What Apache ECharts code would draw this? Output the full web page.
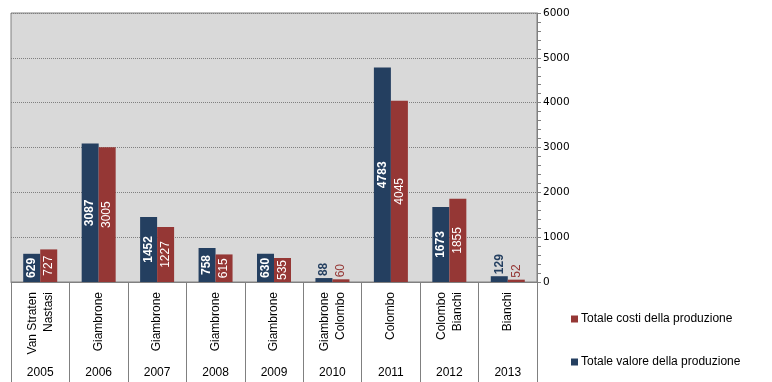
<!DOCTYPE html>
<html>
<head>
<meta charset="utf-8">
<script src="https://cdn.jsdelivr.net/npm/echarts@6/dist/echarts.min.js"></script>
<style>
html,body{margin:0;padding:0;background:#fff;}
#chart{width:772px;height:382px;}
</style>
</head>
<body>
<div id="chart"></div>
<script>
const names = ['Van Straten\nNastasi','Giambrone','Giambrone','Giambrone','Giambrone','Giambrone\nColombo','Colombo','Colombo\nBianchi','Bianchi'];
const years = ['2005','2006','2007','2008','2009','2010','2011','2012','2013'];
const valore = [629,3087,1452,758,630,88,4783,1673,129];
const costi = [727,3005,1227,615,535,60,4045,1855,52];
const yTicks = {min:0, max:6000, interval:1000};

const BLUE = '#243F60', RED = '#953735';
const FONT = 'Liberation Sans';

function mkData(vals, color, bold){
  return vals.map(v => {
    const small = v < 200;
    return {
      value: v,
      label: small ? {
        show:true, position:'top', rotate:90, align:'left', verticalAlign:'middle',
        distance:2, color:color, fontWeight: bold?'bold':'normal'
      } : undefined
    };
  });
}

const chart = echarts.init(document.getElementById('chart'), null, {renderer:'canvas'});
chart.setOption({
  animation:false,
  textStyle:{fontFamily:FONT},
  grid:{left:11, right:235, top:13, bottom:100, show:true, backgroundColor:'#d9d9d9', borderColor:'#808080', borderWidth:1},
  legend:{
    orient:'vertical', left:566, top:308, itemWidth:7, itemHeight:7, itemGap:31,
    icon:'rect', data:['Totale costi della produzione','Totale valore della produzione'],
    textStyle:{fontFamily:FONT, fontSize:12, color:'#000', padding:[0,0,0,-2]}
  },
  xAxis:[{
    type:'category', data:names, gridIndex:0,
    axisLine:{show:true, lineStyle:{color:'#808080'}},
    axisTick:{show:true, length:100, interval:0, lineStyle:{color:'#808080'}},
    axisLabel:{interval:0, rotate:90, margin:10, fontSize:12, lineHeight:16, color:'#000', fontFamily:FONT}
  },{
    type:'category', data:years, gridIndex:0, position:'bottom',
    axisLine:{show:false}, axisTick:{show:false},
    axisLabel:{interval:0, margin:85, fontSize:12, color:'#000', fontFamily:FONT}
  }],
  yAxis:{
    type:'value', position:'right', min:yTicks.min, max:yTicks.max, interval:yTicks.interval,
    axisLine:{show:true, lineStyle:{color:'#808080'}},
    axisTick:{show:true, length:4, lineStyle:{color:'#808080'}},
    minorTick:{show:true, splitNumber:5, length:4, lineStyle:{color:'#808080'}},
    splitLine:{show:true, lineStyle:{color:'#808080', type:[1,1]}},
    axisLabel:{margin:6, fontSize:10.5, color:'#000', fontFamily:'DejaVu Sans', formatter: v => String(v)}
  },
  series:[{
    name:'Totale valore della produzione', type:'bar', xAxisIndex:0,
    data:mkData(valore, BLUE, true), itemStyle:{color:BLUE},
    barWidth:17, barGap:'0%',
    label:{show:true, position:'inside', rotate:90, color:'#fff', fontWeight:'bold', fontSize:12, fontFamily:FONT}
  },{
    name:'Totale costi della produzione', type:'bar', xAxisIndex:0,
    data:mkData(costi, RED, false), itemStyle:{color:RED},
    barWidth:17, barGap:'0%',
    label:{show:true, position:'inside', rotate:90, color:'#fff', fontSize:12, fontFamily:FONT}
  }]
});
</script>
</body>
</html>
